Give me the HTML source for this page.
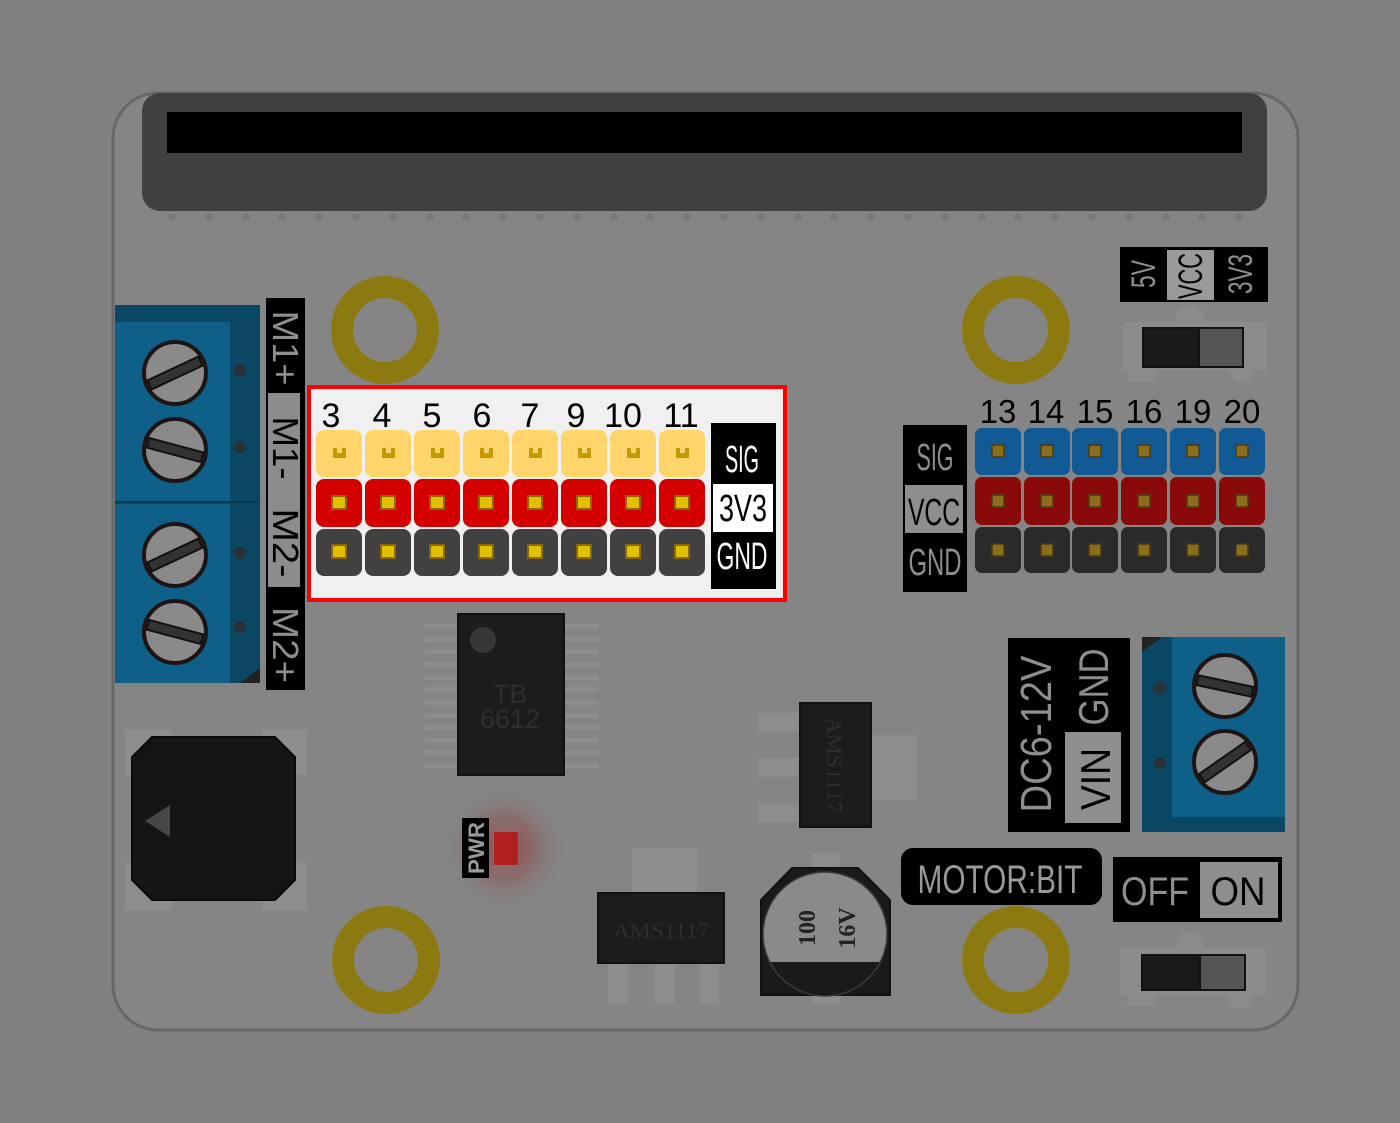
<!DOCTYPE html>
<html><head><meta charset="utf-8">
<style>
html,body{margin:0;padding:0;background:#808080;}
svg{display:block;}
text{font-family:"Liberation Sans",sans-serif;}
</style></head>
<body>
<svg width="1400" height="1123" viewBox="0 0 1400 1123" xmlns="http://www.w3.org/2000/svg">
<defs>
<radialGradient id="glow" cx="0.5" cy="0.5" r="0.5">
<stop offset="0" stop-color="#a03030" stop-opacity="0.75"/>
<stop offset="0.5" stop-color="#904040" stop-opacity="0.35"/>
<stop offset="1" stop-color="#858585" stop-opacity="0"/>
</radialGradient>
<clipPath id="capclip"><rect x="740" y="850" width="170" height="112"/></clipPath>
</defs>
<rect width="1400" height="1123" fill="#808080"/>
<!-- board -->
<rect x="113" y="93" width="1185" height="937" rx="45" fill="#858585" stroke="#676767" stroke-width="3"/>
<!-- edge connector -->
<rect x="142" y="93" width="1125" height="118" rx="18" fill="#404040"/>
<rect x="167" y="112" width="1075" height="41" fill="#000"/>
<g fill="#7a7a7a">
<circle cx="172" cy="217" r="4"/><circle cx="209" cy="217" r="4"/><circle cx="246" cy="217" r="4"/><circle cx="282" cy="217" r="4"/><circle cx="319" cy="217" r="4"/><circle cx="356" cy="217" r="4"/><circle cx="393" cy="217" r="4"/><circle cx="430" cy="217" r="4"/><circle cx="466" cy="217" r="4"/><circle cx="503" cy="217" r="4"/><circle cx="540" cy="217" r="4"/><circle cx="577" cy="217" r="4"/><circle cx="614" cy="217" r="4"/><circle cx="650" cy="217" r="4"/><circle cx="687" cy="217" r="4"/><circle cx="724" cy="217" r="4"/><circle cx="761" cy="217" r="4"/><circle cx="798" cy="217" r="4"/><circle cx="834" cy="217" r="4"/><circle cx="871" cy="217" r="4"/><circle cx="908" cy="217" r="4"/><circle cx="945" cy="217" r="4"/><circle cx="982" cy="217" r="4"/><circle cx="1018" cy="217" r="4"/><circle cx="1055" cy="217" r="4"/><circle cx="1092" cy="217" r="4"/><circle cx="1129" cy="217" r="4"/><circle cx="1166" cy="217" r="4"/><circle cx="1202" cy="217" r="4"/><circle cx="1239" cy="217" r="4"/>
</g>
<!-- mounting holes -->
<g fill="none" stroke="#8c7a10" stroke-width="22">
<circle cx="385" cy="330" r="43"/><circle cx="1016" cy="330" r="43"/>
<circle cx="386" cy="960" r="43"/><circle cx="1016" cy="960" r="43"/>
</g>

<!-- left terminal block -->
<rect x="115" y="305" width="145" height="378" fill="#0a4763"/>
<rect x="115" y="322" width="115" height="179" fill="#0f6088"/>
<rect x="115" y="504" width="115" height="179" fill="#0f6088"/>
<line x1="115" y1="502" x2="260" y2="502" stroke="#0a3a50" stroke-width="2"/>
<polygon points="240,683 260,683 260,668" fill="#222"/>
<g stroke="#1e1414" stroke-width="4" fill="#8a8a8a">
<circle cx="175" cy="373" r="31"/><circle cx="175" cy="450" r="31"/>
<circle cx="175" cy="555" r="31"/><circle cx="175" cy="632" r="31"/>
</g>
<g fill="#333" stroke="#111" stroke-width="2">
<rect x="147" y="368" width="56" height="10" transform="rotate(-25 175 373)"/>
<rect x="147" y="445" width="56" height="10" transform="rotate(15 175 450)"/>
<rect x="147" y="550" width="56" height="10" transform="rotate(-25 175 555)"/>
<rect x="147" y="627" width="56" height="10" transform="rotate(15 175 632)"/>
</g>
<g fill="#2a3035"><circle cx="240" cy="370" r="6"/><circle cx="240" cy="447" r="6"/><circle cx="240" cy="553" r="6"/><circle cx="240" cy="627" r="6"/></g>
<rect x="266" y="298" width="39" height="392" fill="#000"/>
<rect x="268" y="393" width="32" height="194" fill="#8c8c8c"/>
<g font-size="36" text-anchor="middle">
<text x="285" y="348" dy="12" fill="#8e8e8e" transform="rotate(90 285 348)" textLength="75" lengthAdjust="spacingAndGlyphs">M1+</text>
<text x="285" y="448" dy="12" fill="#000" transform="rotate(90 285 448)" textLength="63" lengthAdjust="spacingAndGlyphs">M1-</text>
<text x="285" y="543" dy="12" fill="#000" transform="rotate(90 285 543)" textLength="69" lengthAdjust="spacingAndGlyphs">M2-</text>
<text x="285" y="645" dy="12" fill="#8e8e8e" transform="rotate(90 285 645)" textLength="76" lengthAdjust="spacingAndGlyphs">M2+</text>
</g>

<!-- top right 5V/VCC/3V3 -->
<rect x="1120" y="247" width="148" height="55" fill="#000"/>
<rect x="1167" y="250" width="47" height="50" fill="#9a9a9a"/>
<g font-size="34" text-anchor="middle">
<text x="1143" y="274" dy="12" fill="#8e8e8e" transform="rotate(-90 1143 274)" textLength="28" lengthAdjust="spacingAndGlyphs">5V</text>
<text x="1190" y="276" dy="12" fill="#000" transform="rotate(-90 1190 276)" textLength="46" lengthAdjust="spacingAndGlyphs">VCC</text>
<text x="1240" y="274" dy="12" fill="#8e8e8e" transform="rotate(-90 1240 274)" textLength="40" lengthAdjust="spacingAndGlyphs">3V3</text>
</g>
<!-- top slide switch -->
<circle cx="1190" cy="320" r="14" fill="#8c8c8c"/>
<rect x="1123" y="322" width="144" height="48" fill="#8c8c8c"/>
<rect x="1128" y="366" width="28" height="16" fill="#8c8c8c"/>
<circle cx="1242" cy="370" r="12" fill="#8c8c8c"/>
<rect x="1143" y="328" width="56" height="39" fill="#1a1a1a" stroke="#111" stroke-width="2"/>
<rect x="1199" y="328" width="44" height="39" fill="#555" stroke="#111" stroke-width="2"/>

<!-- right header -->
<rect x="903" y="425" width="64" height="167" fill="#000"/>
<rect x="905" y="485" width="58" height="48" fill="#8e8e8e"/>
<g font-size="38" text-anchor="middle">
<text x="935" y="470" fill="#8e8e8e" textLength="37" lengthAdjust="spacingAndGlyphs">SIG</text>
<text x="934" y="525" fill="#000" textLength="52" lengthAdjust="spacingAndGlyphs">VCC</text>
<text x="935" y="575" fill="#8e8e8e" textLength="53" lengthAdjust="spacingAndGlyphs">GND</text>
</g>
<g font-size="33" text-anchor="middle" fill="#000">
<text x="998" y="423">13</text><text x="1046" y="423">14</text><text x="1095" y="423">15</text>
<text x="1144" y="423">16</text><text x="1193" y="423">19</text><text x="1242" y="423">20</text>
</g>
<g>
<g fill="#115a96">
<rect x="975" y="428" width="46" height="47" rx="7"/><rect x="1024" y="428" width="46" height="47" rx="7"/><rect x="1072" y="428" width="46" height="47" rx="7"/><rect x="1121" y="428" width="46" height="47" rx="7"/><rect x="1170" y="428" width="46" height="47" rx="7"/><rect x="1219" y="428" width="46" height="47" rx="7"/>
</g>
<g fill="#8a0a0a">
<rect x="975" y="477" width="46" height="48" rx="7"/><rect x="1024" y="477" width="46" height="48" rx="7"/><rect x="1072" y="477" width="46" height="48" rx="7"/><rect x="1121" y="477" width="46" height="48" rx="7"/><rect x="1170" y="477" width="46" height="48" rx="7"/><rect x="1219" y="477" width="46" height="48" rx="7"/>
</g>
<g fill="#2a2a2a">
<rect x="975" y="527" width="46" height="46" rx="7"/><rect x="1024" y="527" width="46" height="46" rx="7"/><rect x="1072" y="527" width="46" height="46" rx="7"/><rect x="1121" y="527" width="46" height="46" rx="7"/><rect x="1170" y="527" width="46" height="46" rx="7"/><rect x="1219" y="527" width="46" height="46" rx="7"/>
</g>
<g fill="#8a6e1c" stroke="#4a3a10" stroke-width="1.5">
<rect x="992" y="445" width="12" height="12"/><rect x="1041" y="445" width="12" height="12"/><rect x="1089" y="445" width="12" height="12"/><rect x="1138" y="445" width="12" height="12"/><rect x="1187" y="445" width="12" height="12"/><rect x="1236" y="445" width="12" height="12"/>
<rect x="992" y="495" width="12" height="12"/><rect x="1041" y="495" width="12" height="12"/><rect x="1089" y="495" width="12" height="12"/><rect x="1138" y="495" width="12" height="12"/><rect x="1187" y="495" width="12" height="12"/><rect x="1236" y="495" width="12" height="12"/>
<rect x="992" y="544" width="12" height="12"/><rect x="1041" y="544" width="12" height="12"/><rect x="1089" y="544" width="12" height="12"/><rect x="1138" y="544" width="12" height="12"/><rect x="1187" y="544" width="12" height="12"/><rect x="1236" y="544" width="12" height="12"/>
</g>
</g>

<!-- TB6612 -->
<g fill="#8e8e8e">
<rect x="425" y="624" width="32" height="5"/><rect x="425" y="637" width="32" height="5"/><rect x="425" y="649" width="32" height="5"/><rect x="425" y="662" width="32" height="5"/><rect x="425" y="675" width="32" height="5"/><rect x="425" y="687" width="32" height="5"/><rect x="425" y="700" width="32" height="5"/><rect x="425" y="713" width="32" height="5"/><rect x="425" y="725" width="32" height="5"/><rect x="425" y="738" width="32" height="5"/><rect x="425" y="750" width="32" height="5"/><rect x="425" y="763" width="32" height="5"/>
<rect x="565" y="624" width="33" height="5"/><rect x="565" y="637" width="33" height="5"/><rect x="565" y="649" width="33" height="5"/><rect x="565" y="662" width="33" height="5"/><rect x="565" y="675" width="33" height="5"/><rect x="565" y="687" width="33" height="5"/><rect x="565" y="700" width="33" height="5"/><rect x="565" y="713" width="33" height="5"/><rect x="565" y="725" width="33" height="5"/><rect x="565" y="738" width="33" height="5"/><rect x="565" y="750" width="33" height="5"/><rect x="565" y="763" width="33" height="5"/>
</g>
<rect x="458" y="614" width="106" height="161" fill="#1c1c1c" stroke="#111" stroke-width="2"/>
<circle cx="483" cy="640" r="13" fill="#363636"/>
<g font-size="27" text-anchor="middle" fill="#2e2e2e">
<text x="510" y="703">TB</text><text x="510" y="728">6612</text>
</g>

<!-- buzzer -->
<g fill="#8e8e8e">
<rect x="125" y="730" width="47" height="45"/><rect x="262" y="730" width="45" height="45"/>
<rect x="125" y="863" width="47" height="47"/><rect x="262" y="863" width="45" height="47"/>
</g>
<polygon points="152,737 275,737 295,757 295,880 275,900 152,900 132,880 132,757" fill="#151515" stroke="#0a0a0a" stroke-width="2"/>
<polygon points="145,821 170,805 170,837" fill="#454545"/>

<!-- PWR LED -->
<circle cx="505" cy="848" r="62" fill="url(#glow)"/>
<rect x="462" y="818" width="27" height="60" fill="#000"/>
<text x="476" y="848" dy="8" font-size="22" font-weight="bold" fill="#9a9a9a" text-anchor="middle" transform="rotate(-90 476 848)" textLength="52" lengthAdjust="spacingAndGlyphs">PWR</text>
<rect x="493" y="820" width="26" height="57" fill="#8a6a6a"/>
<rect x="494" y="832" width="24" height="33" fill="#b02020"/>

<!-- AMS1117 horizontal -->
<rect x="632" y="848" width="65" height="46" fill="#8d8d8d"/>
<g fill="#8d8d8d"><rect x="608" y="962" width="20" height="43"/><rect x="655" y="962" width="20" height="43"/><rect x="700" y="962" width="19" height="43"/></g>
<rect x="598" y="893" width="126" height="70" fill="#1c1c1c" stroke="#111" stroke-width="2"/>
<text x="661" y="938" font-family="Liberation Serif,serif" font-size="22" fill="#2e2e2e" text-anchor="middle" textLength="96" lengthAdjust="spacingAndGlyphs" style="font-family:'Liberation Serif',serif">AMS1117</text>

<!-- AMS1117 vertical -->
<g fill="#8d8d8d"><rect x="758" y="713" width="42" height="19"/><rect x="758" y="758" width="42" height="19"/><rect x="758" y="803" width="42" height="19"/><rect x="871" y="735" width="46" height="65"/></g>
<rect x="800" y="703" width="71" height="124" fill="#1c1c1c" stroke="#111" stroke-width="2"/>
<text x="835" y="765" dy="8" font-size="22" fill="#2e2e2e" text-anchor="middle" transform="rotate(90 835 765)" textLength="96" lengthAdjust="spacingAndGlyphs" style="font-family:'Liberation Serif',serif">AMS1117</text>

<!-- capacitor -->
<rect x="812" y="853" width="28" height="16" fill="#8d8d8d"/>
<rect x="812" y="993" width="28" height="12" fill="#8d8d8d"/>
<polygon points="792,868 858,868 890,900 890,995 761,995 761,900" fill="#1a1a1a" stroke="#111" stroke-width="2"/>
<circle cx="825" cy="934" r="62" fill="#8a8a8a" clip-path="url(#capclip)"/>
<circle cx="825" cy="934" r="62" fill="none" stroke="#3a3a3a" stroke-width="1.5"/>
<g font-size="24" font-weight="bold" fill="#222" text-anchor="middle" style="font-family:'Liberation Serif',serif">
<text x="807" y="928" dy="8" transform="rotate(-90 807 928)" style="font-family:'Liberation Serif',serif">100</text>
<text x="847" y="928" dy="8" transform="rotate(-90 847 928)" style="font-family:'Liberation Serif',serif">16V</text>
</g>

<!-- MOTOR:BIT -->
<rect x="901" y="848" width="201" height="57" rx="12" fill="#000"/>
<text x="1000" y="893" font-size="40" fill="#999" text-anchor="middle" textLength="165" lengthAdjust="spacingAndGlyphs">MOTOR:BIT</text>

<!-- DC label -->
<rect x="1008" y="638" width="122" height="194" fill="#000"/>
<rect x="1065" y="732" width="56" height="91" fill="#8e8e8e"/>
<g text-anchor="middle">
<text x="1035" y="734" dy="16" font-size="44" fill="#8e8e8e" transform="rotate(-90 1035 734)" textLength="157" lengthAdjust="spacingAndGlyphs">DC6-12V</text>
<text x="1093" y="687" dy="15" font-size="42" fill="#8e8e8e" transform="rotate(-90 1093 687)" textLength="77" lengthAdjust="spacingAndGlyphs">GND</text>
<text x="1095" y="779" dy="15" font-size="42" fill="#000" transform="rotate(-90 1095 779)" textLength="62" lengthAdjust="spacingAndGlyphs">VIN</text>
</g>

<!-- right terminal block -->
<rect x="1142" y="637" width="143" height="195" fill="#0a4763"/>
<rect x="1172" y="637" width="113" height="180" fill="#0f6088"/>
<polygon points="1142,637 1162,637 1142,652" fill="#222"/>
<g stroke="#1e1414" stroke-width="4" fill="#8a8a8a">
<circle cx="1225" cy="686" r="31"/><circle cx="1225" cy="762" r="31"/>
</g>
<g fill="#333" stroke="#111" stroke-width="2">
<rect x="1197" y="681" width="56" height="10" transform="rotate(12 1225 686)"/>
<rect x="1197" y="757" width="56" height="10" transform="rotate(-35 1225 762)"/>
</g>
<g fill="#2a3035"><circle cx="1160" cy="688" r="6"/><circle cx="1160" cy="763" r="6"/></g>

<!-- OFF/ON -->
<rect x="1113" y="857" width="169" height="65" fill="#000"/>
<rect x="1200" y="862" width="78" height="56" fill="#8e8e8e"/>
<text x="1155" y="905" font-size="40" fill="#8e8e8e" text-anchor="middle" textLength="68" lengthAdjust="spacingAndGlyphs">OFF</text>
<text x="1238" y="905" font-size="40" fill="#000" text-anchor="middle" textLength="55" lengthAdjust="spacingAndGlyphs">ON</text>
<!-- bottom slide switch -->
<circle cx="1190" cy="946" r="14" fill="#8c8c8c"/>
<rect x="1120" y="948" width="145" height="47" fill="#8c8c8c"/>
<rect x="1127" y="990" width="28" height="16" fill="#8c8c8c"/>
<circle cx="1240" cy="995" r="13" fill="#8c8c8c"/>
<rect x="1142" y="955" width="58" height="35" fill="#1a1a1a" stroke="#111" stroke-width="2"/>
<rect x="1200" y="955" width="45" height="35" fill="#555" stroke="#111" stroke-width="2"/>

<!-- ========== highlighted region ========== -->
<rect x="309" y="387" width="476" height="213" fill="#f0f0f0" stroke="#ff0000" stroke-width="4"/>
<g font-size="34" text-anchor="middle" fill="#000">
<text x="331" y="427">3</text><text x="382" y="427">4</text><text x="432" y="427">5</text><text x="482" y="427">6</text>
<text x="530" y="427">7</text><text x="576" y="427">9</text><text x="623" y="427">10</text><text x="681" y="427">11</text>
</g>
<g fill="#ffd46a">
<rect x="316" y="430" width="46" height="47" rx="8"/><rect x="365" y="430" width="46" height="47" rx="8"/><rect x="414" y="430" width="46" height="47" rx="8"/><rect x="463" y="430" width="46" height="47" rx="8"/><rect x="512" y="430" width="46" height="47" rx="8"/><rect x="561" y="430" width="46" height="47" rx="8"/><rect x="610" y="430" width="46" height="47" rx="8"/><rect x="659" y="430" width="46" height="47" rx="8"/>
</g>
<g fill="#d40000">
<rect x="316" y="479" width="46" height="48" rx="8"/><rect x="365" y="479" width="46" height="48" rx="8"/><rect x="414" y="479" width="46" height="48" rx="8"/><rect x="463" y="479" width="46" height="48" rx="8"/><rect x="512" y="479" width="46" height="48" rx="8"/><rect x="561" y="479" width="46" height="48" rx="8"/><rect x="610" y="479" width="46" height="48" rx="8"/><rect x="659" y="479" width="46" height="48" rx="8"/>
</g>
<g fill="#414141">
<rect x="316" y="529" width="46" height="47" rx="8"/><rect x="365" y="529" width="46" height="47" rx="8"/><rect x="414" y="529" width="46" height="47" rx="8"/><rect x="463" y="529" width="46" height="47" rx="8"/><rect x="512" y="529" width="46" height="47" rx="8"/><rect x="561" y="529" width="46" height="47" rx="8"/><rect x="610" y="529" width="46" height="47" rx="8"/><rect x="659" y="529" width="46" height="47" rx="8"/>
</g>
<!-- yellow row u-pads -->
<g fill="#c49a00">
<rect x="333" y="448" width="13" height="10"/><rect x="382" y="448" width="13" height="10"/><rect x="431" y="448" width="13" height="10"/><rect x="480" y="448" width="13" height="10"/><rect x="529" y="448" width="13" height="10"/><rect x="578" y="448" width="13" height="10"/><rect x="627" y="448" width="13" height="10"/><rect x="676" y="448" width="13" height="10"/>
</g>
<g fill="#f6d470">
<rect x="337" y="447" width="5" height="6"/><rect x="386" y="447" width="5" height="6"/><rect x="435" y="447" width="5" height="6"/><rect x="484" y="447" width="5" height="6"/><rect x="533" y="447" width="5" height="6"/><rect x="582" y="447" width="5" height="6"/><rect x="631" y="447" width="5" height="6"/><rect x="680" y="447" width="5" height="6"/>
</g>
<!-- gold square pads -->
<g fill="#e0c000" stroke="#8a6a00" stroke-width="2">
<rect x="332" y="496" width="14" height="13"/><rect x="381" y="496" width="14" height="13"/><rect x="430" y="496" width="14" height="13"/><rect x="479" y="496" width="14" height="13"/><rect x="528" y="496" width="14" height="13"/><rect x="577" y="496" width="14" height="13"/><rect x="626" y="496" width="14" height="13"/><rect x="675" y="496" width="14" height="13"/>
<rect x="332" y="545" width="14" height="13"/><rect x="381" y="545" width="14" height="13"/><rect x="430" y="545" width="14" height="13"/><rect x="479" y="545" width="14" height="13"/><rect x="528" y="545" width="14" height="13"/><rect x="577" y="545" width="14" height="13"/><rect x="626" y="545" width="14" height="13"/><rect x="675" y="545" width="14" height="13"/>
</g>
<!-- SIG/3V3/GND label -->
<rect x="711" y="423" width="65" height="166" fill="#000"/>
<rect x="713" y="484" width="60" height="48" fill="#fff"/>
<g font-size="38" text-anchor="middle">
<text x="742" y="472" fill="#fff" textLength="34" lengthAdjust="spacingAndGlyphs">SIG</text>
<text x="743" y="521" fill="#000" textLength="48" lengthAdjust="spacingAndGlyphs">3V3</text>
<text x="742" y="569" fill="#fff" textLength="51" lengthAdjust="spacingAndGlyphs">GND</text>
</g>
</svg>
</body></html>
